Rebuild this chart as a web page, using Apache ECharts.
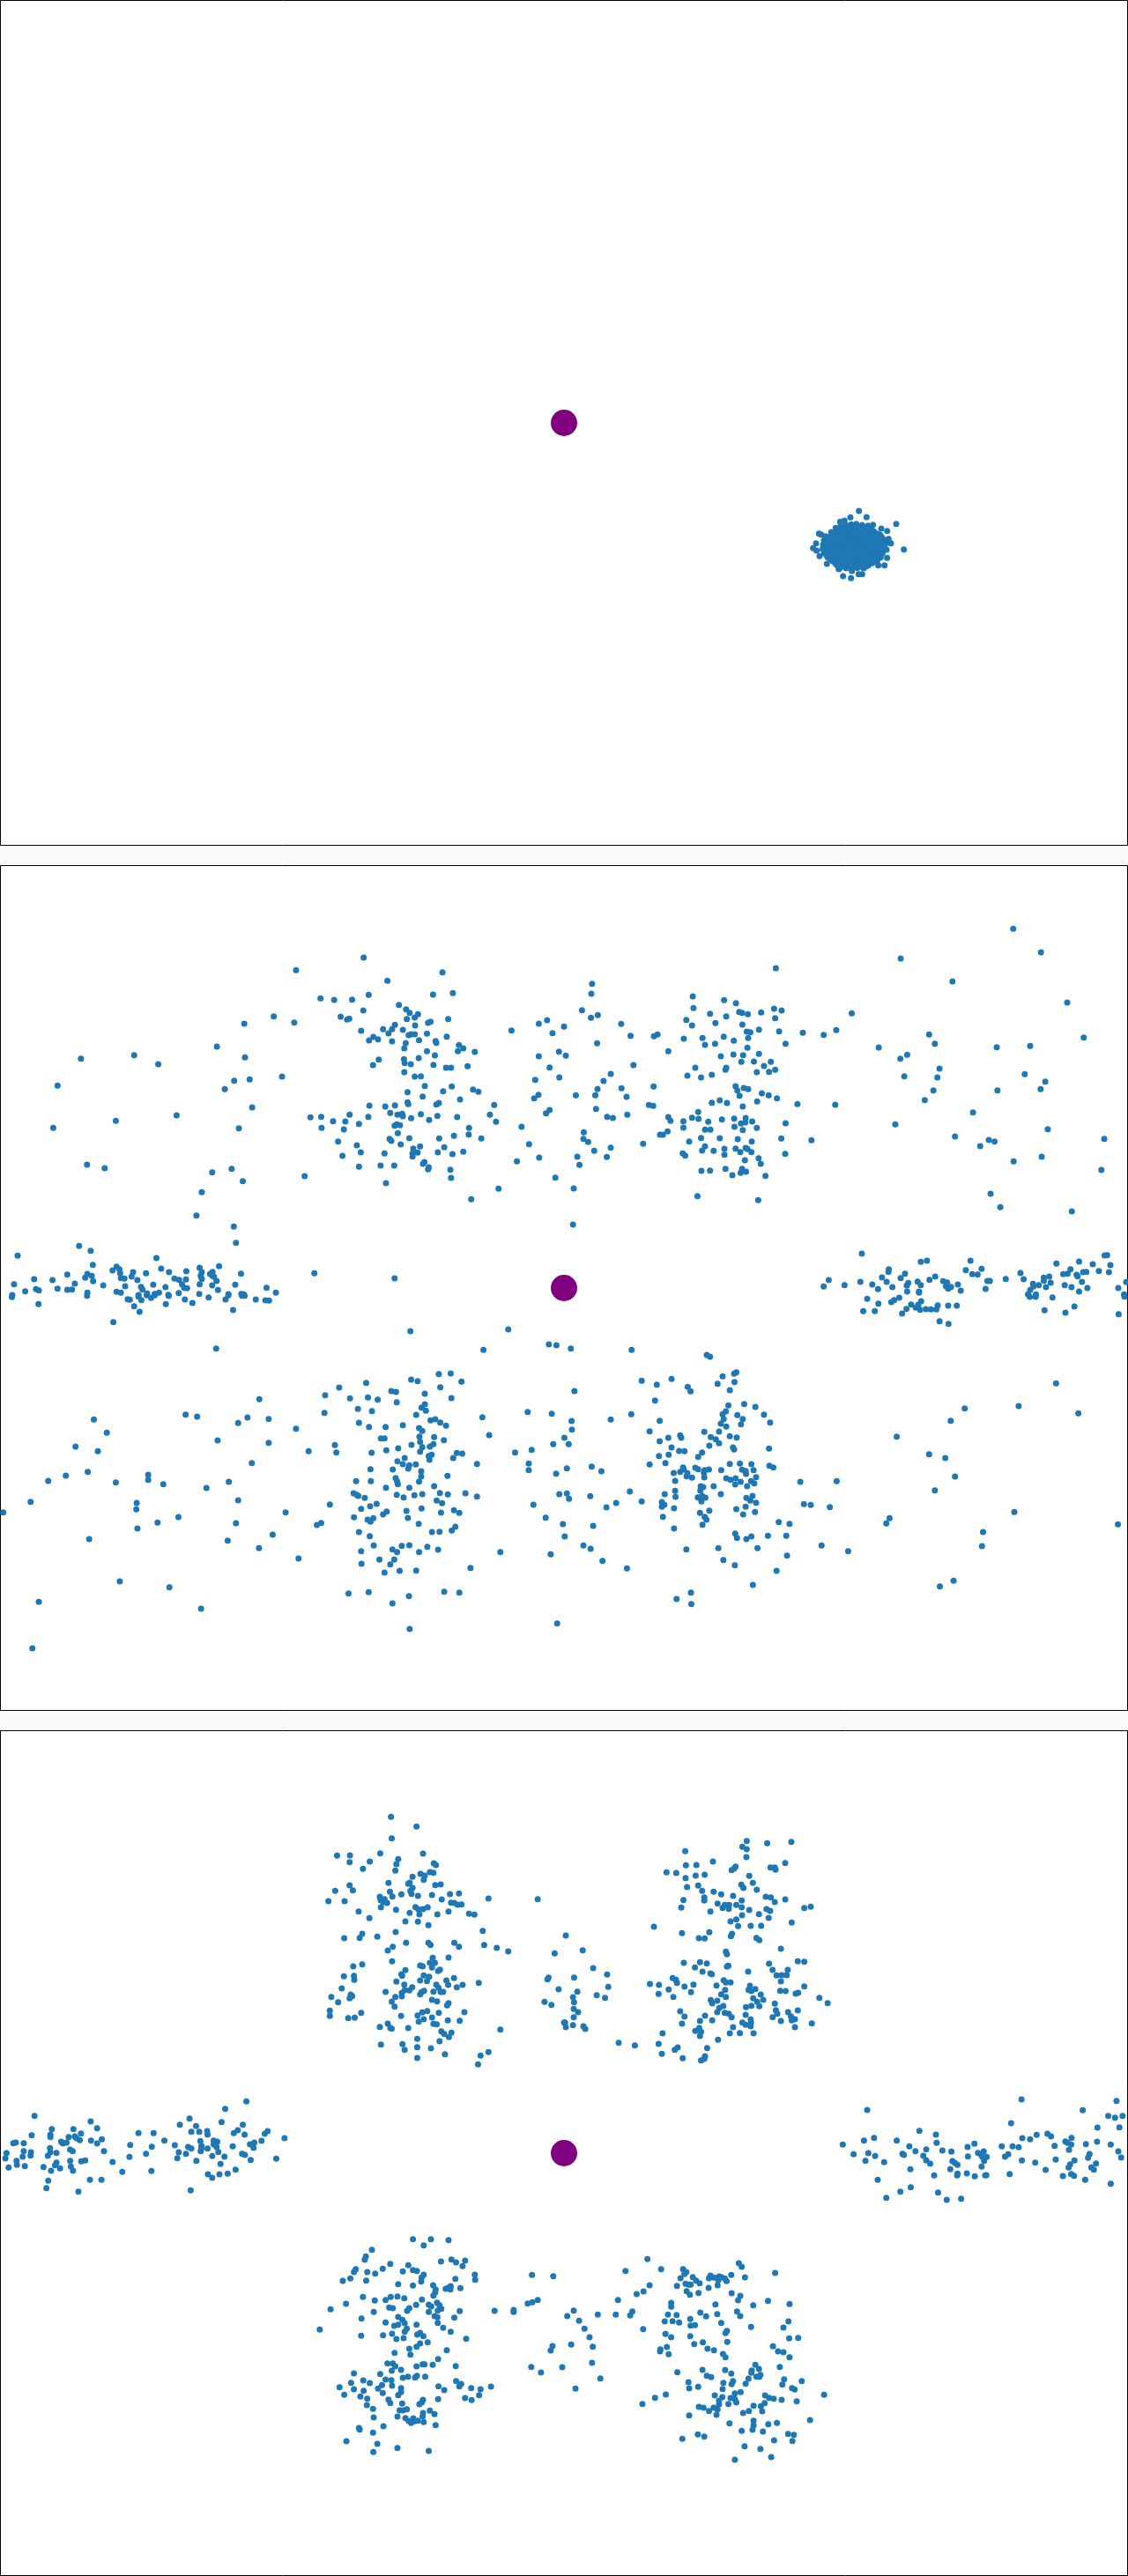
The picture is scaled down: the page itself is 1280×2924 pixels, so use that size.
<!DOCTYPE html>
<html><head><meta charset="utf-8">
<style>html,body{margin:0;padding:0;background:#fafafa}#c{width:1280px;height:2924px}</style>
<script src="https://cdn.jsdelivr.net/npm/echarts@6/dist/echarts.min.js"></script>
</head><body><div id="c"></div>
<script>
// Readings taken from magnified views of the picture, one list per view.
const blobOuter=[[284,60],[310,81],[255,82],[235,93],[220,97],[411,104],[332,107],[360,120],[380,128],[148,137],[138,170],[128,187],[140,195],[150,214],[175,240],[437,191],[393,170],[385,155],[378,192],[380,220],[371,245],[350,245],[345,232],[230,282],[257,289],[283,275],[295,275],[260,265],[215,258],[155,140]];
const blobCore=[[205,118],[222,112],[240,108],[258,106],[275,104],[295,108],[315,110],[325,118],
[190,132],[208,130],[225,127],[243,124],[262,122],[280,120],[298,124],[316,126],[335,130],
[170,146],[188,145],[205,144],[224,141],[242,140],[260,137],[279,138],[297,139],[316,142],[335,144],[355,140],
[165,160],[183,160],[200,158],[220,157],[238,155],[256,154],[275,153],[294,155],[312,156],[330,158],[348,156],[366,155],
[162,175],[180,174],[198,173],[216,172],[235,171],[253,170],[272,170],[290,171],[308,172],[327,173],[345,172],[364,171],[378,168],
[160,190],[178,189],[196,188],[214,187],[232,186],[250,186],[268,185],[287,186],[305,187],[323,188],[341,187],[359,186],[372,184],
[165,204],[183,203],[201,202],[219,202],[237,201],[255,200],[273,200],[292,201],[310,202],[328,203],[346,202],[364,204],
[178,218],[195,217],[213,216],[231,215],[249,215],[267,214],[285,215],[303,216],[321,217],[339,216],[358,218],
[195,231],[212,230],[230,229],[248,229],[266,228],[284,229],[302,230],[320,231],[338,230],
[208,244],[226,243],[244,242],[262,243],[280,242],[298,244],[316,245],
[218,256],[240,255],[258,255],[278,254],[300,255]];
const blobFill=[[213,121],[231,118],[250,115],[268,113],[287,114],[305,117],[322,120],
[199,138],[216,136],[234,133],[252,131],[271,129],[289,131],[307,133],[325,135],[345,137],
[178,153],[196,152],[214,150],[233,148],[251,146],[269,145],[288,146],[306,148],[325,150],[343,150],[361,148],
[173,167],[191,166],[209,165],[228,164],[247,162],[265,161],[284,162],[303,163],[321,165],[339,165],[357,163],
[171,182],[189,181],[207,180],[225,179],[243,178],[262,177],[281,178],[299,179],[318,180],[336,180],[354,179],[371,177],
[169,197],[187,196],[205,195],[223,194],[241,193],[259,193],[278,193],[296,194],[314,195],[332,195],[350,194],[366,194],
[174,211],[192,210],[210,209],[228,208],[246,208],[264,207],[282,207],[301,208],[319,210],[337,210],[355,210],
[187,224],[204,223],[222,222],[240,222],[258,221],[276,222],[294,222],[312,223],[330,224],[348,224],
[203,237],[221,236],[239,236],[257,235],[275,235],[293,236],[311,238],[329,238],
[217,250],[235,249],[253,249],[271,248],[289,249],[307,250]];

const p2TL=[[1011,171],[823,214],[1230,221],[1077,250],[1025,298],[1204,297],[1259,292],[891,310],[929,315],[979,314],[1109,332],[1129,347],[1139,359],[1162,364],[1153,375],[1010,351],[761,371],[947,372],[971,379],[965,382],[1131,380],[1246,380],[1197,389],[1190,393],[679,396],[818,392],[1098,400],[1154,402],[1090,415],[1065,415],[1120,417],[1004,420],[1422,419],[1498,396],[1521,384],[1568,406],[1536,428],[1080,429],[1187,430],[1136,435],[1143,432],[1153,432],[1242,440],[1038,441],[1026,453],[1051,449],[1090,456],[1165,452],[1211,455],[1213,461],[1128,462],[1276,469],[1124,480],[1288,480],[1273,490],[1320,492],[1187,490],[603,474],[373,503],[225,515],[681,511],[1209,504],[1053,518],[1123,517],[1164,513],[1498,507],[1554,491],[1125,530],[1142,534],[1037,537],[1205,536],[1240,546],[1254,546],[1300,541],[1528,545],[440,534],[784,576],[1124,561],[1153,576],[1170,575],[651,590],[694,586],[1488,587],[1555,579],[160,607],[1181,608],[625,619],[1256,610],[1315,620],[1330,628],[1232,626],[1133,629],[1175,644],[1497,638],[1485,650],[1133,664],[1135,670],[1279,654],[1220,666],[1213,671],[1374,673],[1027,675],[1071,678],[1098,674],[701,681],[1528,690],[1518,701],[972,706],[1085,700],[1105,706],[1118,703],[1120,711],[1170,704],[1216,710],[491,708],[863,715],[893,713],[1024,713],[1271,714],[1362,706],[1143,718],[1193,724],[926,728],[960,729],[322,727],[1379,730],[998,737],[1097,743],[1103,739],[1112,742],[148,751],[664,752],[894,751],[956,756],[1304,751],[1450,747],[1106,769],[1262,778],[1303,773],[1083,788],[1088,795],[1138,786],[1221,787],[1338,787],[940,797],[1114,807],[992,810],[1471,806],[1168,814],[1149,821],[1235,817],[1003,834],[1069,838],[1161,835],[1147,838],[1147,848],[1217,834],[1258,840],[1288,832],[952,846],[1499,852],[1437,865],[1180,867],[1176,873],[242,876],[291,888],[1058,879],[1096,879],[998,883],[644,890],[1192,885],[1190,892],[1252,893],[590,902],[847,915],[1254,921],[1544,920],[675,932],[1073,939],[1386,958],[561,970],[1310,994],[546,1049],[650,1087],[656,1142],[220,1153],[252,1169],[49,1186],[435,1194],[258,1217],[609,1222],[324,1223],[555,1227],[448,1230],[332,1232],[313,1236],[518,1239],[370,1242],[470,1242],[561,1242],[591,1241],[334,1246],[406,1246],[670,1247],[874,1246],[187,1250],[243,1248],[255,1255],[584,1248],[590,1254],[558,1255],[237,1261],[336,1262],[346,1264],[366,1257],[485,1264],[498,1268],[517,1267],[561,1265],[595,1258],[1097,1263],[95,1266],[146,1269],[259,1273],[382,1269],[602,1272],[208,1281],[39,1283],[426,1285],[506,1283],[555,1283],[590,1287],[654,1285],[287,1287],[348,1290],[392,1292],[460,1293],[512,1295],[520,1297],[741,1295],[160,1298],[100,1300],[108,1304],[187,1302],[200,1301],[396,1301],[606,1303],[70,1307],[324,1309],[336,1312],[243,1312],[767,1312],[409,1315],[430,1316],[442,1312],[497,1313],[554,1316],[635,1317],[671,1316],[678,1318],[34,1320],[385,1320],[468,1319]];
const p2TR=[[1249,73],[1326,153],[936,174],[589,207],[78,260],[1080,252],[76,294],[358,303],[445,316],[478,326],[1399,324],[360,343],[584,345],[605,351],[50,350],[487,356],[495,359],[511,364],[406,362],[548,358],[94,367],[75,376],[451,371],[587,377],[800,361],[340,383],[421,394],[159,397],[356,402],[496,399],[542,416],[508,423],[518,425],[598,422],[664,427],[757,418],[722,434],[1015,433],[185,437],[250,439],[260,433],[333,447],[385,445],[444,440],[512,445],[1445,443],[472,454],[92,463],[392,468],[420,464],[616,464],[1031,464],[875,477],[1203,476],[1296,472],[510,478],[290,490],[542,499],[471,501],[498,503],[436,507],[954,502],[935,515],[5,505],[493,526],[528,525],[575,526],[193,537],[365,546],[451,546],[449,553],[556,540],[587,553],[536,561],[570,560],[1044,549],[130,567],[343,573],[381,579],[411,570],[946,575],[1038,579],[1281,568],[110,591],[1338,593],[249,610],[477,609],[482,623],[500,615],[512,619],[160,616],[93,619],[1325,619],[1027,623],[1205,623],[550,633],[33,640],[87,640],[174,645],[488,641],[569,640],[592,650],[433,657],[411,665],[453,666],[537,661],[1003,656],[236,673],[248,676],[649,670],[754,672],[497,678],[89,686],[373,697],[1137,698],[176,706],[120,713],[136,717],[290,714],[296,727],[356,716],[374,720],[473,719],[505,717],[439,722],[332,728],[401,730],[523,729],[492,736],[504,732],[616,735],[921,739],[332,750],[474,747],[536,751],[392,757],[407,757],[497,758],[1345,755],[288,763],[55,766],[267,774],[275,774],[1087,780],[1502,788],[54,788],[381,785],[433,786],[483,789],[604,787],[1181,792],[1197,797],[67,799],[348,797],[522,797],[688,793],[220,805],[1157,813],[130,818],[392,814],[446,822],[477,821],[505,819],[510,823],[84,829],[384,828],[416,829],[490,833],[521,833],[330,838],[337,845],[446,842],[615,839],[37,849],[119,850],[541,854],[1328,849],[503,861],[1250,865],[43,877],[547,873],[382,897],[406,896],[449,890],[495,890],[491,904],[506,900],[1494,894],[468,912],[560,914],[27,957],[1186,975],[371,983],[540,997],[1213,1021],[1412,1035],[25,1080],[828,1179],[1510,1184],[1503,1185],[992,1207],[1009,1203],[1130,1203],[1369,1213],[1432,1206],[1470,1215],[1519,1218],[903,1232],[902,1241],[1117,1235],[1161,1231],[948,1247],[1135,1249],[1150,1250],[1269,1245],[1408,1232],[1388,1249],[1400,1247],[1443,1242],[1452,1241],[1487,1238],[1515,1242],[884,1260],[736,1269],[936,1262],[1032,1257],[1016,1268],[1228,1265],[1278,1266],[1334,1261],[1349,1257],[1425,1251],[1428,1256],[897,1275],[824,1275],[983,1274],[1054,1273],[1065,1277],[1177,1272],[1184,1272],[1334,1271],[1353,1278],[1440,1275],[1563,1276],[780,1286],[857,1284],[957,1279],[953,1288],[992,1286],[1095,1284],[1304,1282],[1320,1286],[1392,1286],[722,1291],[913,1293],[1062,1290],[1076,1292],[1068,1298],[1305,1291],[1340,1293],[1411,1293],[873,1300],[1172,1299],[1455,1296],[1541,1296],[954,1308],[987,1308],[1103,1305],[1296,1303],[1432,1308],[987,1312],[1290,1318],[1312,1318],[1557,1318]];
const p2BL=[[33,7],[242,2],[355,14],[361,16],[385,5],[393,17],[408,1],[420,10],[430,1],[469,3],[514,15],[580,8],[627,15],[635,1],[673,2],[680,2],[711,15],[738,18],[748,19],[107,31],[461,31],[535,27],[373,38],[648,51],[388,57],[315,92],[1141,123],[1413,117],[601,182],[1344,187],[1526,168],[1547,171],[1220,269],[1253,267],[1143,288],[1161,293],[1283,295],[1018,299],[943,315],[1224,314],[1088,327],[1101,330],[904,341],[1181,336],[973,352],[1023,349],[1050,356],[1255,351],[721,355],[1103,365],[1181,372],[1172,383],[1184,394],[995,388],[1034,395],[902,401],[1157,408],[1467,398],[1534,404],[516,407],[548,414],[1341,416],[688,417],[747,422],[261,424],[1197,427],[1210,423],[1224,434],[998,435],[662,436],[1120,443],[1240,445],[1026,449],[1072,449],[1165,453],[1174,463],[823,455],[297,469],[1360,477],[1166,482],[1207,484],[1059,488],[1069,488],[1234,494],[1168,500],[605,495],[747,503],[1569,486],[210,516],[931,511],[1144,510],[1205,508],[1195,516],[1174,518],[1107,522],[1538,508],[272,532],[858,532],[935,536],[1033,537],[1074,529],[1168,533],[1270,538],[1285,540],[1432,536],[1478,527],[1192,548],[1200,544],[1125,555],[1260,555],[1194,561],[1105,566],[700,572],[1470,574],[1120,576],[1138,580],[1156,577],[1326,575],[1135,591],[1030,593],[1092,594],[1470,596],[244,602],[1171,600],[183,615],[412,612],[1244,616],[1171,618],[1546,608],[134,633],[412,629],[990,634],[1031,634],[1165,635],[1100,623],[1104,635],[636,636],[322,638],[454,644],[1106,644],[1207,651],[574,657],[1073,656],[1138,656],[1223,674],[1294,675],[1555,678],[983,675],[992,680],[996,684],[1103,680],[1122,689],[1152,682],[1174,678],[1245,679],[1326,686],[1014,691],[85,704],[662,699],[1214,700],[1229,709],[380,708],[1047,711],[917,713],[1483,714],[1029,719],[1004,728],[379,730],[1172,727],[1130,735],[1075,737],[1226,741],[1262,733],[1277,742],[794,740],[9,740],[496,756],[1065,747],[984,757],[1517,758],[1134,759],[1038,760],[1022,765],[1030,772],[438,775],[656,777],[893,776],[881,783],[1164,779],[1565,780],[1266,789],[1256,802],[382,795],[998,807],[1201,807],[1222,806],[758,816],[1028,821],[1570,822],[248,831],[633,836],[1039,853],[1117,854],[1138,852],[1188,857],[720,862],[1091,866],[1218,867],[1004,872],[1104,875],[1165,875],[1391,875],[1531,883],[830,897],[1055,901],[1096,901],[1005,915],[1085,917],[1308,929],[1111,939],[1157,938],[1069,945],[333,975],[471,995],[969,1016],[1025,1012],[1235,1010],[1277,1013],[1137,1025],[108,1045],[1091,1050],[559,1068],[1549,1118],[1139,1137],[90,1203]];
const p2BR=[[843,13],[874,29],[910,24],[918,17],[932,9],[993,21],[965,32],[985,33],[1039,35],[1068,36],[1092,36],[1295,6],[1311,6],[1358,8],[1558,5],[832,55],[864,55],[952,47],[978,43],[990,50],[1006,48],[1020,49],[1035,49],[940,63],[1336,52],[1394,60],[1419,39],[1542,65],[1044,89],[1069,98],[19,182],[188,187],[397,204],[406,210],[479,263],[473,268],[441,277],[216,292],[299,286],[258,305],[427,302],[474,296],[344,313],[352,328],[461,324],[29,327],[253,359],[457,376],[501,371],[532,381],[1368,301],[1114,386],[1264,378],[450,396],[441,406],[556,407],[482,409],[1430,403],[187,406],[130,424],[444,422],[497,422],[266,428],[573,434],[21,429],[1075,428],[436,438],[492,440],[451,448],[22,458],[238,464],[390,466],[431,465],[323,478],[326,486],[461,481],[480,485],[925,482],[290,486],[408,484],[422,491],[266,498],[431,505],[13,508],[404,513],[299,519],[470,519],[473,526],[570,523],[320,531],[335,532],[384,536],[291,544],[264,548],[373,551],[1015,542],[1060,555],[461,575],[489,574],[521,576],[238,577],[282,572],[571,581],[582,587],[77,584],[8,590],[331,587],[365,588],[373,593],[333,594],[403,594],[391,596],[437,596],[495,595],[505,599],[527,596],[104,600],[305,606],[323,602],[343,607],[389,605],[506,609],[341,617],[356,622],[390,621],[451,624],[463,629],[477,624],[534,620],[1087,618],[309,633],[491,636],[520,634],[529,641],[476,645],[657,636],[758,634],[380,651],[387,654],[416,651],[509,651],[379,666],[309,667],[183,669],[1031,665],[8,676],[280,678],[436,678],[524,684],[73,685],[14,694],[310,687],[372,689],[384,684],[393,690],[507,691],[518,700],[216,703],[382,703],[534,707],[272,705],[145,708],[667,712],[686,715],[279,714],[272,721],[118,723],[306,726],[505,721],[739,722],[479,729],[404,734],[531,739],[1252,739],[378,742],[498,747],[275,755],[391,755],[396,765],[905,760],[896,778],[597,773],[627,779],[81,786],[385,782],[1540,781],[306,795],[1165,807],[476,812],[481,827],[507,831],[521,822],[567,820],[618,820],[54,853],[716,853],[1162,855],[74,864],[340,866],[429,862],[538,862],[790,872],[620,887],[107,905],[443,902],[475,920],[175,931],[591,939],[525,987],[1083,973],[1045,992],[353,1013],[313,1035],[354,1052]];

const p3TL=[[1087,67],[1158,100],[1089,140],[1057,191],[1176,192],[937,199],[973,198],[972,221],[1028,219],[1107,211],[1102,228],[1206,225],[1212,231],[1009,244],[1099,250],[1195,255],[1205,257],[1169,261],[1181,267],[1178,281],[1147,271],[1080,292],[1135,295],[1139,291],[1210,299],[1225,297],[972,300],[1147,309],[1141,319],[1084,322],[932,319],[981,317],[1144,329],[1116,331],[1162,336],[1201,333],[1251,330],[1276,328],[1056,339],[1091,338],[1058,350],[1069,347],[1228,348],[1358,345],[1495,347],[913,354],[958,354],[1065,358],[1076,360],[1254,359],[1263,360],[1272,366],[1283,365],[1059,375],[1155,374],[1163,382],[1176,381],[1189,375],[1101,383],[997,389],[1139,394],[1166,399],[1216,399],[1247,389],[1304,397],[1319,400],[1027,412],[1127,423],[1162,424],[1191,436],[1342,455],[1100,459],[1007,465],[1049,475],[1000,479],[957,480],[1129,496],[1191,496],[1197,503],[1263,496],[1276,509],[1346,503],[1381,513],[1413,525],[1092,509],[1078,522],[1542,532],[1247,546],[1203,547],[1090,559],[1007,569],[1195,564],[1209,564],[1168,573],[1175,576],[1201,580],[982,576],[1223,587],[1218,592],[1127,589],[1116,603],[1118,608],[956,610],[984,608],[985,622],[1178,607],[1193,611],[1525,614],[1522,620],[1168,624],[1187,626],[1102,628],[1241,624],[1262,616],[1331,632],[1124,638],[1213,638],[1246,639],[1286,639],[1270,647],[1146,647],[1219,649],[950,651],[1125,657],[1138,658],[1553,654],[1072,663],[1179,659],[1172,664],[1168,671],[1205,662],[1225,663],[1232,663],[1117,667],[1117,678],[975,672],[979,677],[972,685],[921,680],[1099,680],[1089,696],[1201,690],[1215,695],[940,698],[1247,701],[1243,709],[1514,697],[1533,707],[1097,713],[917,727],[1004,734],[1188,728],[1174,733],[1220,734],[1291,732],[917,745],[1161,743],[1115,745],[1201,750],[968,752],[986,751],[1178,756],[1164,764],[1245,760],[1278,761],[1568,767],[1078,771],[1205,772],[1214,773],[1056,782],[1085,785],[1089,788],[1135,786],[1391,791],[1227,797],[1235,806],[1255,802],[1248,817],[1160,823],[1222,831],[1059,842],[1119,841],[1160,851],[1198,855],[1125,860],[1237,875],[1358,868],[1336,880],[1160,888],[1329,910],[685,1036],[626,1061],[96,1085],[527,1094],[252,1104],[500,1115],[616,1106],[675,1115],[545,1120],[144,1130],[204,1130],[270,1127],[532,1139],[554,1139],[576,1137],[577,1149],[650,1144],[661,1134],[736,1146],[744,1137],[88,1151],[140,1150],[140,1157],[225,1145],[385,1144],[427,1144],[680,1149],[191,1157],[208,1155],[212,1161],[222,1168],[283,1165],[253,1169],[457,1169],[557,1171],[594,1169],[604,1173],[791,1161],[727,1170],[37,1178],[44,1176],[66,1178],[170,1173],[175,1179],[185,1176],[270,1179],[707,1176],[594,1182],[695,1182],[701,1183],[362,1184],[486,1185],[560,1187],[422,1190],[523,1191],[532,1196],[602,1191],[647,1189],[705,1194],[139,1195],[560,1196],[577,1196],[195,1200],[202,1205],[289,1205],[66,1205],[86,1209],[497,1209],[558,1205],[607,1208],[157,1211],[18,1212],[406,1214],[517,1214],[140,1209],[673,1214],[681,1218],[133,1221],[85,1220],[63,1224],[360,1225],[590,1222],[624,1224],[15,1230],[493,1229],[697,1235],[768,1231],[195,1238],[226,1240],[237,1237],[46,1238],[313,1242],[546,1238],[157,1244],[153,1253],[47,1252],[613,1249],[69,1256],[121,1259],[197,1258],[24,1261],[167,1264],[655,1268],[142,1272],[203,1272],[340,1276],[421,1273],[578,1284],[610,1284],[633,1282],[590,1296],[134,1306],[250,1303],[282,1303]];
const p3TR=[[508,149],[565,157],[632,152],[496,169],[508,177],[337,184],[507,204],[615,224],[414,219],[339,232],[368,231],[477,236],[473,243],[466,248],[574,239],[586,239],[588,247],[285,256],[312,258],[391,264],[366,267],[515,268],[338,275],[525,292],[493,298],[499,309],[373,301],[342,306],[536,315],[384,319],[416,322],[437,331],[470,336],[561,339],[575,341],[390,341],[390,352],[332,350],[615,348],[494,352],[586,357],[427,362],[447,367],[459,367],[479,367],[441,377],[458,380],[494,375],[326,376],[668,377],[686,373],[515,384],[563,381],[573,387],[407,389],[542,398],[495,402],[569,411],[479,416],[463,423],[633,427],[484,439],[519,438],[548,438],[250,441],[328,463],[404,460],[467,465],[464,473],[5,471],[375,480],[391,481],[535,479],[543,487],[603,516],[52,521],[450,526],[453,535],[333,564],[378,562],[397,566],[570,567],[650,559],[668,560],[457,574],[453,577],[364,580],[81,582],[580,588],[622,588],[385,594],[407,600],[411,603],[512,594],[591,607],[605,606],[619,606],[120,604],[28,614],[302,616],[311,622],[314,632],[444,623],[450,631],[463,631],[603,627],[239,636],[264,639],[360,638],[335,645],[424,641],[517,642],[668,644],[123,646],[532,653],[291,655],[513,656],[521,660],[448,656],[601,659],[616,660],[37,662],[353,664],[263,670],[437,671],[547,672],[651,666],[644,669],[91,674],[304,680],[450,680],[25,681],[114,683],[526,685],[710,683],[554,690],[408,691],[426,693],[28,698],[537,697],[412,702],[733,701],[586,703],[521,710],[543,712],[443,711],[506,715],[432,718],[27,721],[589,725],[323,729],[650,726],[426,732],[593,737],[447,734],[623,732],[39,732],[505,741],[458,737],[466,749],[335,747],[392,744],[27,749],[631,746],[580,749],[642,756],[633,760],[412,760],[378,762],[519,757],[603,762],[689,770],[328,771],[496,767],[520,767],[3,767],[25,776],[505,775],[519,780],[54,780],[59,789],[5,783],[470,783],[376,786],[642,783],[365,796],[381,799],[461,804],[489,803],[527,804],[274,804],[378,813],[428,826],[152,836],[197,845],[263,840],[398,854],[316,852],[308,860],[272,874],[330,889],[392,882],[390,891],[381,896],[843,1065],[1272,1029],[1536,1034],[1442,1066],[1513,1085],[1532,1091],[1553,1085],[1243,1110],[1483,1125],[1544,1124],[988,1136],[1034,1149],[1314,1150],[1344,1146],[1354,1155],[862,1160],[1411,1160],[1274,1161],[1296,1165],[834,1169],[925,1169],[1482,1173],[1394,1172],[1036,1177],[775,1183],[1141,1180],[1400,1177],[1410,1183],[1451,1181],[1520,1183],[960,1189],[1122,1191],[1217,1189],[1247,1189],[1264,1192],[1364,1187],[1007,1199],[977,1205],[1052,1203],[1077,1207],[1404,1201],[846,1212],[941,1214],[945,1218],[1151,1211],[1167,1206],[1541,1206],[805,1216],[1235,1216],[1461,1215],[865,1222],[999,1221],[1123,1223],[1160,1218],[1226,1224],[1163,1224],[1175,1225],[1457,1228],[1549,1227],[838,1238],[1007,1237],[1080,1239],[1168,1238],[1273,1237],[1367,1234],[1419,1237],[890,1243],[1018,1248],[1087,1246],[1094,1252],[1310,1244],[1407,1250],[1479,1247],[1161,1258],[1403,1261],[1466,1261],[963,1267],[1074,1267],[1339,1269],[1473,1268],[1094,1282],[1120,1281],[1239,1283],[1029,1288],[1093,1288],[1174,1287],[1171,1288],[1410,1283],[1142,1291],[1387,1290],[1418,1289],[872,1303],[1449,1303],[1520,1316]];
const p3BL=[[129,11],[218,23],[530,19],[1148,185],[1198,185],[1247,188],[1178,206],[1034,221],[1017,244],[1014,255],[1255,254],[1293,258],[1226,261],[1268,264],[1085,269],[1135,274],[1286,277],[1064,286],[989,287],[1148,290],[1159,293],[984,297],[1021,297],[1120,295],[1043,302],[1178,306],[1479,307],[1538,311],[1320,306],[1172,316],[974,319],[1266,320],[1321,323],[953,327],[1018,326],[1171,329],[1107,338],[1148,343],[1204,342],[1253,345],[1247,350],[1239,354],[1252,356],[1211,356],[1280,352],[1210,366],[1205,377],[1009,382],[1086,382],[1105,380],[1124,386],[1042,394],[1072,392],[1173,391],[1495,392],[1480,400],[1467,404],[962,405],[1215,401],[1157,409],[1192,408],[1199,414],[1222,410],[1082,418],[1092,420],[1138,420],[1227,422],[1132,429],[919,424],[1217,428],[1278,430],[1192,433],[1375,429],[1428,426],[1428,433],[1039,433],[1208,447],[1216,451],[1107,450],[1263,452],[1005,455],[1119,460],[1217,470],[1072,469],[1125,471],[1158,476],[1107,476],[1096,480],[1232,487],[889,493],[1131,490],[1125,500],[1253,500],[1004,514],[1065,512],[1090,507],[1160,510],[1168,504],[1177,515],[1102,525],[1122,522],[1296,524],[1189,536],[1168,540],[1158,551],[1536,549],[1138,558],[1531,564],[1242,563],[1097,572],[1141,578],[1218,593],[1077,608],[1092,608],[1099,618],[1175,611],[1180,611],[1158,618],[1203,613],[1267,617],[1477,620],[1563,621],[1115,630],[1089,633],[1504,639],[984,642],[1057,644],[1159,650],[1134,653],[1120,657],[1154,656],[1182,653],[1010,666],[1072,663],[1088,665],[976,674],[1028,675],[1268,668],[1282,678],[1277,686],[1090,684],[1062,682],[1219,686],[944,689],[1051,694],[1115,692],[984,696],[1336,696],[1310,692],[1365,687],[1235,699],[1011,701],[1115,706],[1064,709],[1107,716],[957,715],[1332,716],[1002,721],[1021,728],[1293,726],[1311,733],[1218,730],[1176,732],[1080,731],[1173,740],[1085,743],[1166,747],[1118,745],[1020,750],[1037,763],[1131,764],[1111,768],[1120,768],[1195,769],[1176,777],[1208,781],[1175,788],[1105,789],[1039,792],[1127,794],[1149,795],[1136,804],[1143,811],[1153,805],[1162,803],[1178,808],[1211,818],[1066,822],[998,828],[1000,833],[1037,844],[963,873],[1049,882],[1105,896],[1192,906],[1038,910]];
const p3BR=[[896,44],[935,23],[964,8],[1040,26],[1064,51],[1104,47],[232,253],[486,267],[494,279],[171,293],[270,287],[331,287],[340,297],[335,304],[587,300],[407,309],[465,307],[324,318],[358,314],[403,318],[417,316],[431,312],[437,314],[447,319],[503,315],[452,328],[367,326],[377,335],[429,325],[238,342],[338,337],[352,340],[346,340],[427,342],[314,344],[402,351],[221,363],[202,372],[341,362],[350,374],[374,368],[466,369],[490,378],[150,392],[484,393],[567,395],[298,402],[298,415],[421,407],[526,410],[627,406],[27,428],[190,431],[379,435],[481,431],[9,447],[94,442],[144,442],[184,445],[289,442],[313,443],[395,448],[426,440],[490,447],[42,463],[280,465],[302,464],[320,469],[351,457],[437,470],[624,465],[352,479],[364,478],[57,490],[220,491],[520,484],[610,486],[453,497],[449,505],[282,508],[71,519],[298,519],[351,515],[626,523],[651,521],[454,535],[20,544],[386,536],[362,542],[80,551],[286,552],[581,550],[268,560],[267,567],[399,558],[417,563],[595,567],[610,570],[291,577],[442,576],[449,587],[627,587],[78,606],[532,613],[600,620],[542,627],[385,630],[448,631],[522,632],[521,640],[315,638],[465,643],[546,647],[535,653],[543,654],[397,650],[409,655],[101,659],[513,660],[612,662],[661,668],[346,672],[470,668],[443,674],[466,679],[505,677],[607,680],[348,693],[373,688],[441,695],[634,692],[641,697],[32,694],[491,706],[475,710],[283,714],[419,717],[559,717],[723,715],[440,723],[463,726],[570,725],[583,728],[253,725],[605,732],[475,730],[647,737],[431,735],[479,741],[431,748],[457,746],[218,746],[558,743],[527,752],[547,754],[375,756],[388,759],[416,759],[427,765],[403,770],[514,770],[551,771],[498,777],[424,783],[348,785],[684,801],[527,803],[460,812],[568,815],[592,811],[527,819],[524,834],[494,838],[553,840],[623,848],[639,851],[372,850],[390,857],[329,865],[584,870],[635,872],[502,890],[546,899],[576,927],[475,936]];
const centre=[640,480];

// Each view's readings are brought to the shared 0-1280 / 0-960 scale of the panels.
const view=(list,x0,y0,sx,sy)=>list.map(p=>[x0+p[0]/sx,y0+p[1]/sy]);
const panel1=[...view(blobCore,880,560,3,3),...view(blobFill,880,560,3,3),...view(blobOuter,880,560,3,3)];
const panel2=[...view(p2TL,0,48,2.45,3),...view(p2TR,640,48,2.45,3),...view(p2BL,0,488,2.45,3),...view(p2BR,640,488,2.45,3)];
const panel3=[...view(p3TL,0,76,2.45,3),...view(p3TR,640,76,2.45,3),...view(p3BL,0,516,2.45,3),...view(p3BR,640,516,2.45,3)];
const panels=[panel1,panel2,panel3];
const tops=[0.5,982.5,1964.5];

const chart=echarts.init(document.getElementById('c'),null,{renderer:'canvas'});
chart.setOption({
  animation:false,
  backgroundColor:'#fafafa',
  grid:tops.map(t=>({show:true,left:0.5,top:t,width:1279,height:959,backgroundColor:'#fff',borderColor:'#000',borderWidth:1,containLabel:false})),
  xAxis:tops.map((t,i)=>({type:'value',gridIndex:i,min:0.5,max:1279.5,show:false})),
  yAxis:tops.map((t,i)=>({type:'value',gridIndex:i,min:0.5,max:959.5,inverse:true,show:false})),
  series:panels.flatMap((data,i)=>[
    {type:'scatter',xAxisIndex:i,yAxisIndex:i,data,symbol:'circle',symbolSize:7,itemStyle:{color:'#1f77b4',opacity:1},silent:true,large:false,progressive:0},
    {type:'scatter',xAxisIndex:i,yAxisIndex:i,data:[centre],symbol:'circle',symbolSize:30,itemStyle:{color:'#800080',opacity:1},silent:true,z:3}
  ])
});
</script></body></html>
